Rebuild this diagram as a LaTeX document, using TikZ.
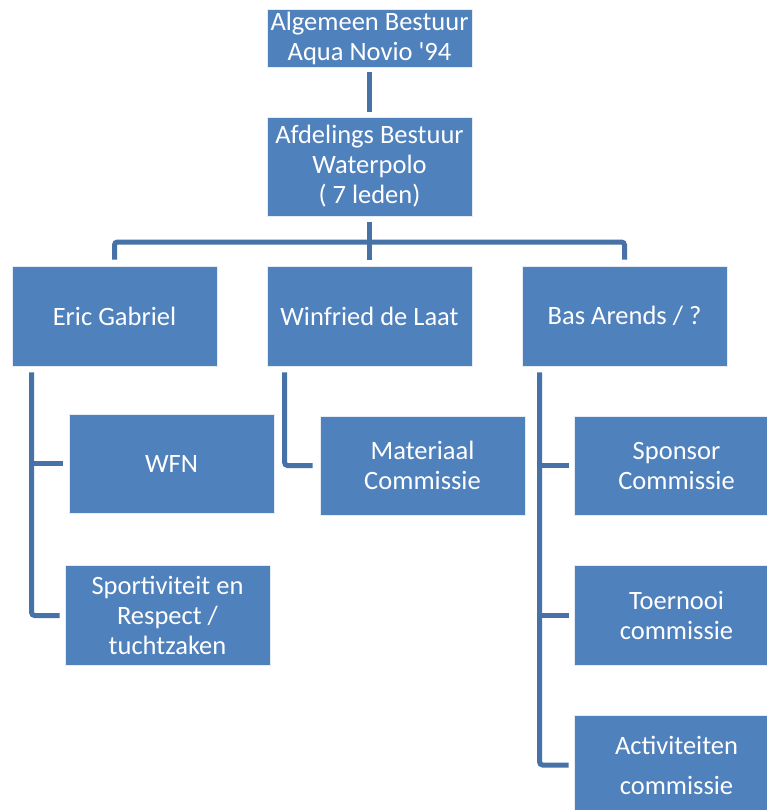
\documentclass[tikz,border=0pt]{standalone}
\usepackage{fontspec}
\setmainfont{Carlito}[Ligatures=TeXOff]
\usetikzlibrary{calc}
\definecolor{boxblue}{RGB}{79,129,189}
\definecolor{linkblue}{RGB}{70,114,168}
\begin{document}
\begin{tikzpicture}[x=1pt,y=-1pt,
  box/.style={rectangle, fill=boxblue, draw=white!85!boxblue, line width=0.8pt, text=white, align=center, inner sep=0pt,
    minimum width=205pt, minimum height=100pt, font=\fontsize{26.5}{30}\selectfont},
  conn/.style={draw=linkblue, line width=5pt, rounded corners=3pt}]
\useasboundingbox[fill=white] (0,0) rectangle (767,810);
\node[box, minimum height=58pt] (alg) at (369.5,38) {Algemeen Bestuur\\Aqua Novio '94};
\node[box, minimum height=99pt] (afd) at (369.5,166.5) {Afdelings Bestuur\\Waterpolo\\( 7 leden)};
\node[box] (eric) at (114.5,316) {Eric Gabriel};
\node[box] (win) at (369.5,316) {Winfried de Laat};
\node[box] (bas) at (624.5,316) {Bas Arends / ?};
\node[box, minimum height=99pt] (wfn) at (171.5,463.5) {WFN};
\node[box] (sport) at (167.5,615.5) {Sportiviteit en\\Respect /\\tuchtzaken};
\node[box, minimum height=99pt] (mat) at (422.5,465.5) {Materiaal\\Commissie};
\node[box, minimum height=99pt] (spon) at (676.5,465.5) {Sponsor\\Commissie};
\node[box] (toer) at (676.5,615.5) {Toernooi\\commissie};
\node[box, font=\fontsize{26.5}{40}\selectfont] (act) at (676.5,765) {Activiteiten\\commissie};
% top connectors
\draw[conn] ($(alg.south)+(0,5)$) -- ($(afd.north)+(0,-5)$);
\coordinate (bar) at (369.5,242);
\draw[conn] ($(afd.south)+(0,6)$) -- ($(win.north)+(0,-6)$);
\draw[conn] ($(eric.north)+(0,-6)$) |- (bar) -| ($(bas.north)+(0,-6)$);
% left tree
\coordinate (lt) at ($(eric.south west)+(20,6)$);
\draw[conn] (lt) |- ($(sport.west)+(-5,0)$);
\draw[conn] (lt |- wfn.west) -- ($(wfn.west)+(-6,0)$);
% middle tree
\coordinate (mt) at ($(win.south west)+(18,6)$);
\draw[conn] (mt) |- ($(mat.west)+(-7,0)$);
% right tree
\coordinate (rt) at ($(bas.south west)+(18,6)$);
\draw[conn] (rt) |- ($(act.west)+(-5,0)$);
\draw[conn] (rt |- spon.west) -- ($(spon.west)+(-5,0)$);
\draw[conn] (rt |- toer.west) -- ($(toer.west)+(-5,0)$);
\end{tikzpicture}
\end{document}
